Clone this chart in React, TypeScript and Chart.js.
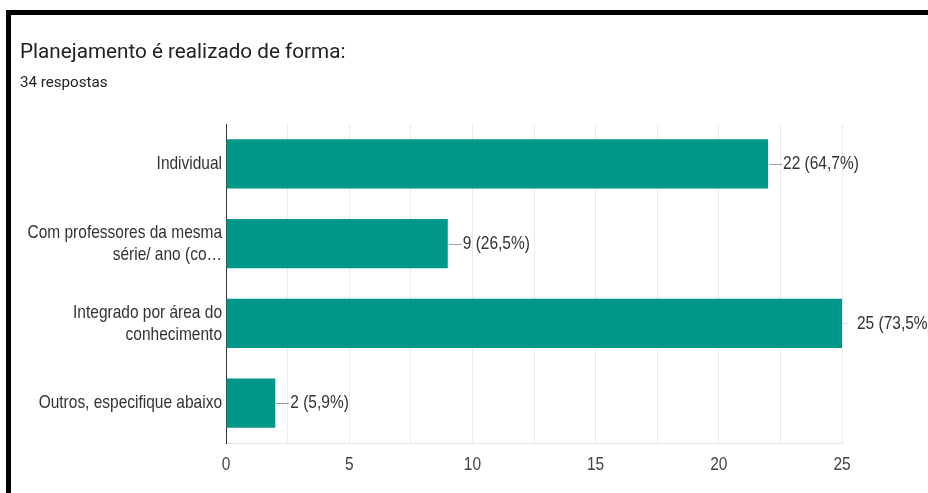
import React, { useEffect, useRef } from "react";
import { Chart, registerables } from "chart.js";

Chart.register(...registerables);

const TITLE = "Planejamento é realizado de forma:";
const SUBTITLE = "34 respostas";
const TOTAL = 34;
const categories: (string | string[])[] = [
  "Individual",
  ["Com professores da mesma", "série/ ano (co…"],
  ["Integrado por área do", "conhecimento"],
  "Outros, especifique abaixo",
];
const counts = [22, 9, 25, 2];
const xMin = 0;
const xMax = 25;
const xStep = 2.5;
const xLabelEvery = 5;

const LABEL_FONT = "19px 'Liberation Sans', Arial, sans-serif";
const SQUEEZE = 0.815;

function squeezedText(ctx: any, text: string, x: number, y: number, align: string, sx: number) {
  ctx.save();
  ctx.translate(x, y);
  ctx.scale(sx, 1);
  ctx.textAlign = align;
  ctx.fillText(text, 0, 0);
  ctx.restore();
}

const headerPlugin = {
  id: "headerText",
  afterDraw(chart: any) {
    const ctx = chart.ctx;
    ctx.save();
    ctx.textBaseline = "alphabetic";
    ctx.fillStyle = "#202124";
    ctx.font = "21px Roboto, Arial, sans-serif";
    squeezedText(ctx, TITLE, 20, 58, "left", 0.985);
    ctx.font = "14px Roboto, Arial, sans-serif";
    squeezedText(ctx, SUBTITLE, 20, 87, "left", 1.08);
    ctx.restore();
  },
};

const axisLabelPlugin = {
  id: "axisLabels",
  afterDraw(chart: any) {
    const ctx = chart.ctx;
    const ys = chart.scales.y;
    const xs = chart.scales.x;
    ctx.save();
    ctx.font = LABEL_FONT;
    ctx.textBaseline = "middle";
    ctx.fillStyle = "#333333";
    const lh = 21.8;
    categories.forEach((lab, i) => {
      const lines = Array.isArray(lab) ? lab : [lab];
      const cy = ys.getPixelForTick(i);
      const y0 = cy - ((lines.length - 1) * lh) / 2;
      lines.forEach((ln, j) => {
        squeezedText(ctx, ln, ys.right - 4, y0 + j * lh, "right", SQUEEZE);
      });
    });
    ctx.fillStyle = "#444444";
    xs.ticks.forEach((t: any) => {
      if (t.value % xLabelEvery !== 0) return;
      const x = xs.getPixelForValue(t.value);
      squeezedText(ctx, String(t.value), x, xs.top + 22, "center", SQUEEZE);
    });
    ctx.restore();
  },
};

const valueLabelPlugin = {
  id: "valueLabels",
  afterDatasetsDraw(chart: any) {
    const ctx = chart.ctx;
    const meta = chart.getDatasetMeta(0);
    const area = chart.chartArea;
    ctx.save();
    meta.data.forEach((el: any, i: number) => {
      const v = counts[i];
      const pct = ((v / TOTAL) * 100).toFixed(1).replace(".", ",");
      const x = el.x;
      const y = Math.round(el.y) + 0.5;
      const atEdge = x >= area.right - 0.5;
      ctx.beginPath();
      ctx.strokeStyle = atEdge ? "#d0d0d0" : "#9e9e9e";
      ctx.lineWidth = 1;
      ctx.moveTo(x + 1, y);
      ctx.lineTo(x + (atEdge ? 5 : 14), y);
      ctx.stroke();
      ctx.font = LABEL_FONT;
      ctx.fillStyle = "#333333";
      ctx.textBaseline = "middle";
      squeezedText(ctx, `${v} (${pct}%)`, x + 15, el.y, "left", SQUEEZE);
    });
    ctx.restore();
  },
};

export default function App() {
  const ref = useRef<HTMLCanvasElement | null>(null);
  useEffect(() => {
    if (!ref.current) return;
    const chart = new Chart(ref.current, {
      type: "bar",
      data: {
        labels: categories,
        datasets: [
          {
            data: counts,
            backgroundColor: "#009688",
            borderWidth: 0,
            barPercentage: 1,
            categoryPercentage: 0.62,
          },
        ],
      },
      options: {
        indexAxis: "y",
        animation: false,
        responsive: true,
        maintainAspectRatio: false,
        layout: { padding: { top: 124, right: 86, bottom: 10, left: 20 } },
        plugins: {
          legend: { display: false },
          tooltip: { enabled: false },
        },
        scales: {
          x: {
            min: xMin,
            max: xMax,
            ticks: {
              stepSize: xStep,
              autoSkip: false,
              display: false,
            },
            grid: { color: "#ebebeb", drawTicks: false },
            border: { display: true, color: "#e3e3e3" },
            afterFit: (s: any) => {
              s.height = 40;
            },
          },
          y: {
            ticks: { display: false },
            grid: { display: false, drawTicks: false },
            border: { display: true, color: "#333333", width: 1 },
            afterFit: (s: any) => {
              s.width = 206;
            },
          },
        },
      },
      plugins: [headerPlugin, axisLabelPlugin, valueLabelPlugin],
    } as any);
    return () => chart.destroy();
  }, []);
  return (
    <div style={{ position: "fixed", left: 0, top: 0, width: 928, height: 493, background: "#fff", overflow: "hidden" }}>
      <canvas ref={ref} />
      <div style={{ position: "absolute", left: 6, top: 10, width: 922, height: 5, background: "#000" }} />
      <div style={{ position: "absolute", left: 6, top: 10, width: 5, height: 483, background: "#000" }} />
    </div>
  );
}
